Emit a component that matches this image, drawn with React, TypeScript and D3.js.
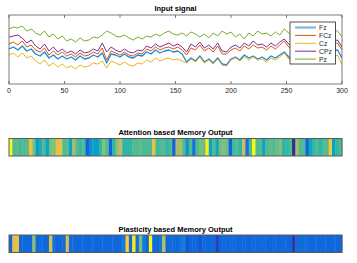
import React, { useEffect, useRef } from 'react';
import * as d3 from 'd3';

// sample grid of the input signal (every 4th sample, 0..300)
const samples = d3.range(0, 301, 4);

const channels = ['Fz', 'FCz', 'Cz', 'CPz', 'Pz'];
const channelColors = ['#1f8ad0', '#d95319', '#edb120', '#7e2f8e', '#77ac30'];

const fz = [
  35, 37, 34, 38, 33, 35, 30, 28, 32, 26, 29, 25, 28, 25, 27, 24, 28, 25, 26, 29,
  27, 31, 21, 30, 29, 27, 30, 27, 26, 29, 28, 32, 30, 34, 31, 33, 34, 32, 33, 30,
  22, 26, 23, 28, 22, 25, 21, 26, 20, 19, 25, 27, 24, 29, 26, 28, 25, 27, 24, 28,
  26, 29, 32, 27, 24, 27, 25, 28, 24, 26, 27, 25, 29, 33, 34, 26,
];
const fcz = [
  40, 42, 39, 43, 37, 39, 34, 32, 36, 29, 33, 29, 32, 28, 30, 27, 31, 28, 29, 32,
  30, 36, 24, 33, 31, 29, 32, 29, 28, 31, 30, 35, 33, 37, 34, 36, 37, 35, 37, 34,
  29, 36, 34, 39, 33, 36, 32, 38, 30, 30, 34, 36, 33, 38, 35, 39, 36, 37, 34, 38,
  35, 39, 43, 37, 34, 37, 35, 38, 34, 36, 37, 35, 38, 40, 41, 34,
];
const cz = [
  29, 31, 27, 31, 26, 28, 23, 20, 24, 18, 21, 17, 20, 16, 18, 15, 19, 17, 18, 21,
  20, 23, 16, 23, 21, 19, 22, 19, 18, 21, 20, 24, 22, 26, 23, 25, 26, 24, 25, 23,
  21, 25, 22, 27, 21, 24, 20, 25, 19, 18, 24, 26, 23, 27, 24, 27, 24, 25, 22, 26,
  24, 27, 31, 25, 22, 25, 23, 26, 22, 24, 25, 23, 27, 27, 29, 19,
];
const cpz = [
  47, 48, 49, 46, 41, 44, 38, 35, 40, 33, 37, 32, 35, 31, 33, 30, 34, 31, 32, 35,
  33, 41, 32, 37, 34, 32, 35, 32, 31, 34, 33, 38, 36, 40, 37, 39, 41, 38, 40, 37,
  32, 40, 37, 42, 36, 39, 35, 41, 33, 32, 37, 39, 36, 41, 38, 43, 39, 40, 37, 41,
  38, 42, 45, 40, 37, 40, 38, 41, 37, 39, 40, 38, 41, 43, 44, 37,
];
const pz = [
  55, 57, 56, 58, 53, 55, 51, 49, 53, 47, 50, 45, 48, 43, 45, 42, 46, 43, 44, 47,
  46, 49, 53, 51, 48, 47, 49, 46, 44, 47, 45, 48, 47, 50, 48, 51, 53, 50, 49, 51,
  48, 52, 50, 47, 50, 46, 51, 48, 53, 50, 52, 47, 50, 45, 51, 48, 53, 50, 51, 48,
  52, 49, 55, 51, 48, 51, 49, 52, 48, 50, 51, 49, 52, 54, 53, 47,
];
const signals = [fz, fcz, cz, cpz, pz];

const xTicks = [0, 50, 100, 150, 200, 250, 300];

// memory outputs, 100 cells each, 0..1 on parula
const attention = [
  1.0, 0.55, 0.57, 0.53, 0.55, 0.56, 0.82, 0.6, 0.35, 0.45,
  0.55, 0.38, 0.6, 0.62, 0.8, 0.82, 0.55, 0.57, 0.38, 0.68,
  0.55, 0.52, 0.55, 0.15, 0.3, 0.38, 0.35, 0.5, 0.62, 0.55,
  0.15, 0.5, 0.65, 0.72, 0.48, 0.5, 0.5, 0.55, 0.55, 0.57,
  0.53, 0.55, 0.55, 0.82, 0.52, 0.55, 0.55, 0.5, 0.55, 0.15,
  0.68, 0.68, 0.55, 0.32, 0.55, 0.2, 0.55, 0.6, 0.58, 0.97,
  0.38, 0.55, 0.4, 0.6, 0.62, 0.58, 0.15, 0.52, 0.55, 0.5,
  0.75, 0.2, 0.55, 1.0, 0.55, 0.55, 0.38, 0.55, 0.57, 0.55,
  0.58, 0.62, 0.48, 0.5, 0.55, 0.02, 0.68, 0.55, 0.55, 0.15,
  0.4, 0.5, 0.55, 0.5, 0.55, 0.55, 0.85, 0.38, 0.5, 0.55,
];
const plasticity = [
  0.16, 0.8, 0.82, 0.16, 0.16, 0.16, 0.16, 0.62, 0.16, 0.19,
  0.16, 0.16, 0.78, 0.21, 0.16, 0.16, 0.16, 0.76, 0.18, 0.17,
  0.16, 0.16, 0.17, 0.16, 0.16, 0.17, 0.16, 0.16, 0.16, 0.17,
  0.16, 0.16, 0.16, 0.17, 0.22, 0.88, 0.18, 0.95, 0.19, 0.6,
  0.22, 0.16, 1.0, 0.16, 0.16, 0.22, 0.7, 0.16, 0.18, 0.16,
  0.16, 0.2, 0.22, 0.11, 0.16, 0.16, 0.16, 0.11, 0.16, 0.16,
  0.16, 0.16, 0.07, 0.16, 0.16, 0.16, 0.17, 0.16, 0.16, 0.16,
  0.16, 0.16, 0.16, 0.16, 0.16, 0.17, 0.16, 0.16, 0.16, 0.16,
  0.16, 0.16, 0.16, 0.16, 0.16, 0.04, 0.18, 0.18, 0.18, 0.18,
  0.16, 0.16, 0.17, 0.16, 0.16, 0.16, 0.16, 0.17, 0.16, 0.16,
];

const parula = ['#352a87', '#0f5cdd', '#1481d6', '#06a4ca', '#2eb7a4', '#87bf77', '#d1bb59', '#fec832', '#f9fb0e'];

const W = 357;
const H = 263;
const FONT = '"Liberation Sans", Arial, Helvetica, sans-serif';

const App: React.FC = () => {
  const svgRef = useRef<SVGSVGElement>(null);

  useEffect(() => {
    if (!svgRef.current) return;
    const svg = d3.select(svgRef.current);
    svg.selectAll('*').remove();

    const left = 9;
    const right = 342;

    // ---- input signal
    const top = 15;
    const bottom = 84;
    const x = d3.scaleLinear().domain([0, 300]).range([left, right]);
    const y = d3.scaleLinear().domain([0, 69]).range([bottom, top]);

    svg.append('text')
      .attr('x', (left + right) / 2).attr('y', 10.5)
      .attr('text-anchor', 'middle')
      .style('font-family', FONT).style('font-size', '7.5px').style('font-weight', 'bold')
      .text('Input signal');

    const clip = svg.append('clipPath').attr('id', 'sigclip');
    clip.append('rect').attr('x', left).attr('y', top).attr('width', right - left).attr('height', bottom - top);

    const line = d3.line<number>()
      .x((_, i) => x(samples[i]))
      .y(d => y(d));

    const lines = svg.append('g').attr('clip-path', 'url(#sigclip)');
    signals.forEach((s, k) => {
      lines.append('path')
        .attr('d', line(s) as string)
        .attr('fill', 'none')
        .attr('stroke', channelColors[k])
        .attr('stroke-width', k === 0 ? 1.3 : 1)
        .attr('stroke-linejoin', 'round');
    });

    // box + inward ticks
    svg.append('rect')
      .attr('x', left).attr('y', top).attr('width', right - left).attr('height', bottom - top)
      .attr('fill', 'none').attr('stroke', '#5a5a5a').attr('stroke-width', 0.8);

    const ticks = svg.append('g');
    xTicks.forEach(t => {
      ticks.append('line').attr('x1', x(t)).attr('x2', x(t)).attr('y1', bottom).attr('y2', bottom - 3)
        .attr('stroke', '#5a5a5a').attr('stroke-width', 0.8);
      ticks.append('line').attr('x1', x(t)).attr('x2', x(t)).attr('y1', top).attr('y2', top + 3)
        .attr('stroke', '#5a5a5a').attr('stroke-width', 0.8);
      ticks.append('text')
        .attr('x', x(t)).attr('y', 92.5)
        .attr('text-anchor', 'middle')
        .style('font-family', FONT).style('font-size', '7px').style('fill', '#262626')
        .text(t);
    });

    // legend
    const lg = svg.append('g');
    lg.append('rect').attr('x', 290).attr('y', 22).attr('width', 45.5).attr('height', 42)
      .attr('fill', 'white').attr('stroke', '#262626').attr('stroke-width', 0.8);
    channels.forEach((c, k) => {
      const ly = 27.5 + k * 7.9;
      lg.append('line').attr('x1', 295).attr('x2', 316).attr('y1', ly).attr('y2', ly)
        .attr('stroke', k === 0 ? '#7ab8e6' : channelColors[k])
        .attr('stroke-width', k === 0 ? 2.2 : 1);
      lg.append('text').attr('x', 319).attr('y', ly + 2.4)
        .style('font-family', FONT).style('font-size', '6.8px').style('fill', '#262626')
        .text(c);
    });

    // ---- memory outputs
    const color = d3.scaleLinear<string>()
      .domain(parula.map((_, i) => i / (parula.length - 1)))
      .range(parula)
      .interpolate(d3.interpolateRgb);

    const drawStrip = (vals: number[], title: string, titleY: number, y0: number, y1: number) => {
      const cx = d3.scaleLinear().domain([0, vals.length]).range([left, right]);
      svg.append('text')
        .attr('x', (left + right) / 2).attr('y', titleY)
        .attr('text-anchor', 'middle')
        .style('font-family', FONT).style('font-size', '7.5px').style('font-weight', 'bold')
        .text(title);
      svg.append('g').selectAll('rect')
        .data(vals)
        .join('rect')
        .attr('x', (_, i) => cx(i))
        .attr('y', y0)
        .attr('width', (_, i) => cx(i + 1) - cx(i) + 0.4)
        .attr('height', y1 - y0)
        .attr('fill', d => color(d));
      svg.append('rect')
        .attr('x', left).attr('y', y0).attr('width', right - left).attr('height', y1 - y0)
        .attr('fill', 'none').attr('stroke', '#5a5a5a').attr('stroke-width', 1);
    };

    drawStrip(attention, 'Attention based Memory Output', 135, 138.5, 156);
    drawStrip(plasticity, 'Plasticity based Memory Output', 231.5, 235, 252.5);
  }, []);

  return (
    <svg
      ref={svgRef}
      width={W}
      height={H}
      style={{ position: 'absolute', left: 0, top: 0, background: 'white' }}
    />
  );
};

export default App;
